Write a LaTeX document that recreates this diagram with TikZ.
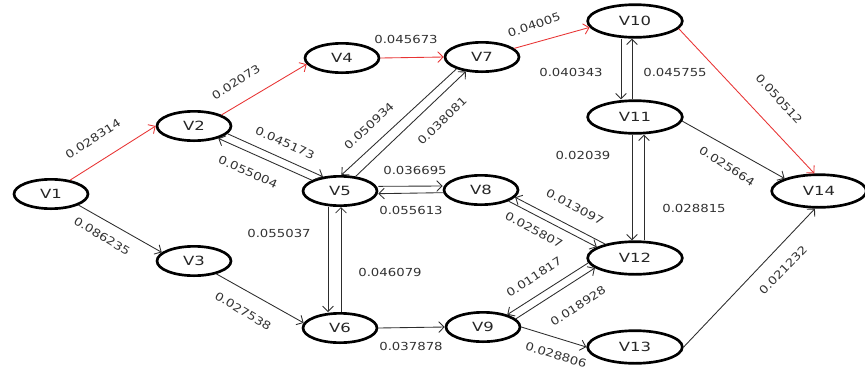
\documentclass[tikz,border=0pt]{standalone}
\usepackage{fontspec}
\newfontfamily\vertexfont[FakeStretch=1.3]{DejaVu Sans}
\newfontfamily\weightfont[FakeStretch=1.2]{DejaVu Sans}
\usetikzlibrary{arrows.meta,shapes.geometric}
\definecolor{pathred}{RGB}{232,52,52}
\definecolor{edgegray}{RGB}{45,45,45}
\definecolor{textgray}{RGB}{50,50,50}

\begin{document}
\begin{tikzpicture}[x=0.75pt,y=-0.75pt,
  vertex/.style={ellipse, draw=black, line width=2pt, inner sep=0pt,
    minimum width=55.5pt, minimum height=22pt,
    font=\vertexfont\fontsize{9.5}{11}\selectfont, text=black!85},
  bigvertex/.style={vertex, minimum width=71pt, minimum height=24.5pt},
  link/.style={draw=edgegray, line width=0.65pt,
    -{Straight Barb[length=4pt,width=8pt]}},
  hot/.style={link, draw=pathred},
  weight/.style={font=\weightfont\fontsize{8.3}{9}\selectfont,
    text=textgray, inner sep=0pt},
]
\useasboundingbox (0,0) rectangle (865,369);

% vertices
\node[vertex] (V1) at (51,194) {V1};
\node[vertex] (V2) at (194,126) {V2};
\node[vertex] (V3) at (194,261) {V3};
\node[vertex] (V4) at (342,58) {V4};
\node[vertex] (V5) at (340,191) {V5};
\node[vertex] (V6) at (340,328) {V6};
\node[vertex] (V7) at (482,57) {V7};
\node[vertex] (V8) at (481,190) {V8};
\node[vertex] (V9) at (483,327) {V9};
\node[bigvertex] (V10) at (635,21) {V10};
\node[bigvertex] (V11) at (635,117) {V11};
\node[bigvertex] (V12) at (635,258) {V12};
\node[bigvertex] (V13) at (635,347) {V13};
\node[bigvertex] (V14) at (819,191) {V14};

% highlighted path
\draw[hot] (V1.36) -- (V2.west);
\draw[hot] (V2.22) -- (V4.190);
\draw[hot] (V4.east) -- (V7.west);
\draw[hot] (V7.15) -- (V10.188);
\draw[hot] (V10.-10) -- (V14.105);

% remaining arcs
\draw[link] (V1.-22) -- (V3.165);
\draw[link] (V2.-13) -- (V5.140);
\draw[link] (V5.159) -- (V2.-27);
\draw[link] (V7.205) -- (V5.85);
\draw[link] (V5.43) -- (V7.222);
\draw[link] ([yshift=3.5pt]V5.east) -- ([yshift=3pt]V8.west);
\draw[link] ([yshift=-2pt]V8.west) -- ([yshift=-2pt]V5.east);
\draw[link] ([xshift=-9pt]V5.south) -- ([xshift=-9pt]V6.north);
\draw[link] ([xshift=0.75pt]V6.north) -- ([xshift=0.75pt]V5.south);
\draw[link] (V3.-30) -- (V6.172);
\draw[link] (V6.east) -- (V9.west);
\draw[link] (V12.155) -- (V8.-12);
\draw[link] (V8.-22) -- (V12.164);
\draw[link] (V12.186) -- (V9.27);
\draw[link] (V9.14) -- (V12.194);
\draw[link] (V9.east) -- (V13.west);
\draw[link] (V13.east) -- (V14.-103);
\draw[link] ([xshift=-10.5pt]V10.south) -- ([xshift=-10.5pt]V11.north);
\draw[link] ([xshift=-2.25pt]V11.north) -- ([xshift=-2.25pt]V10.south);
\draw[link] ([xshift=-2.25pt]V11.south) -- ([xshift=-2.25pt]V12.north);
\draw[link] ([xshift=6.75pt]V12.north) -- ([xshift=6.75pt]V11.south);
\draw[link] (V11.-5) -- (V14.160);

% arc weights
\node[weight, rotate=33] (w1) at (93,139) {0.028314};
\node[weight, rotate=-31] (w2) at (102,236) {0.086235};
\node[weight, rotate=33] (w3) at (236,82) {0.02073};
\node[weight] (w4) at (406,39) {0.045673};
\node[weight, rotate=19] (w5) at (534,25) {0.04005};
\node[weight, rotate=-48] (w6) at (779,99) {0.050512};
\node[weight, rotate=-24] (w7) at (285,143) {0.045173};
\node[weight, rotate=-24] (w8) at (248,172) {0.055004};
\node[weight, rotate=43] (w9) at (369,126) {0.050934};
\node[weight, rotate=44] (w10) at (442,121) {0.038081};
\node[weight] (w11) at (415,170) {0.036695};
\node[weight] (w12) at (411,210) {0.055613};
\node[weight] (w13) at (279,233) {0.055037};
\node[weight] (w14) at (390,272) {0.046079};
\node[weight, rotate=-31] (w15) at (243,311) {0.027538};
\node[weight] (w16) at (411,346) {0.037878};
\node[weight] (w17) at (571,72) {0.040343};
\node[weight] (w18) at (675,72) {0.045755};
\node[weight] (w19) at (583,155) {0.02039};
\node[weight] (w20) at (694,208) {0.028815};
\node[weight, rotate=-33] (w21) at (727,166) {0.025664};
\node[weight, rotate=-28] (w22) at (575,207) {0.013097};
\node[weight, rotate=-28] (w23) at (534,230) {0.025807};
\node[weight, rotate=33] (w24) at (534,277) {0.011817};
\node[weight, rotate=33] (w25) at (578,306) {0.018928};
\node[weight, rotate=-17] (w26) at (556,355) {0.028806};
\node[weight, rotate=46] (w27) at (783,270) {0.021232};
\end{tikzpicture}
\end{document}
